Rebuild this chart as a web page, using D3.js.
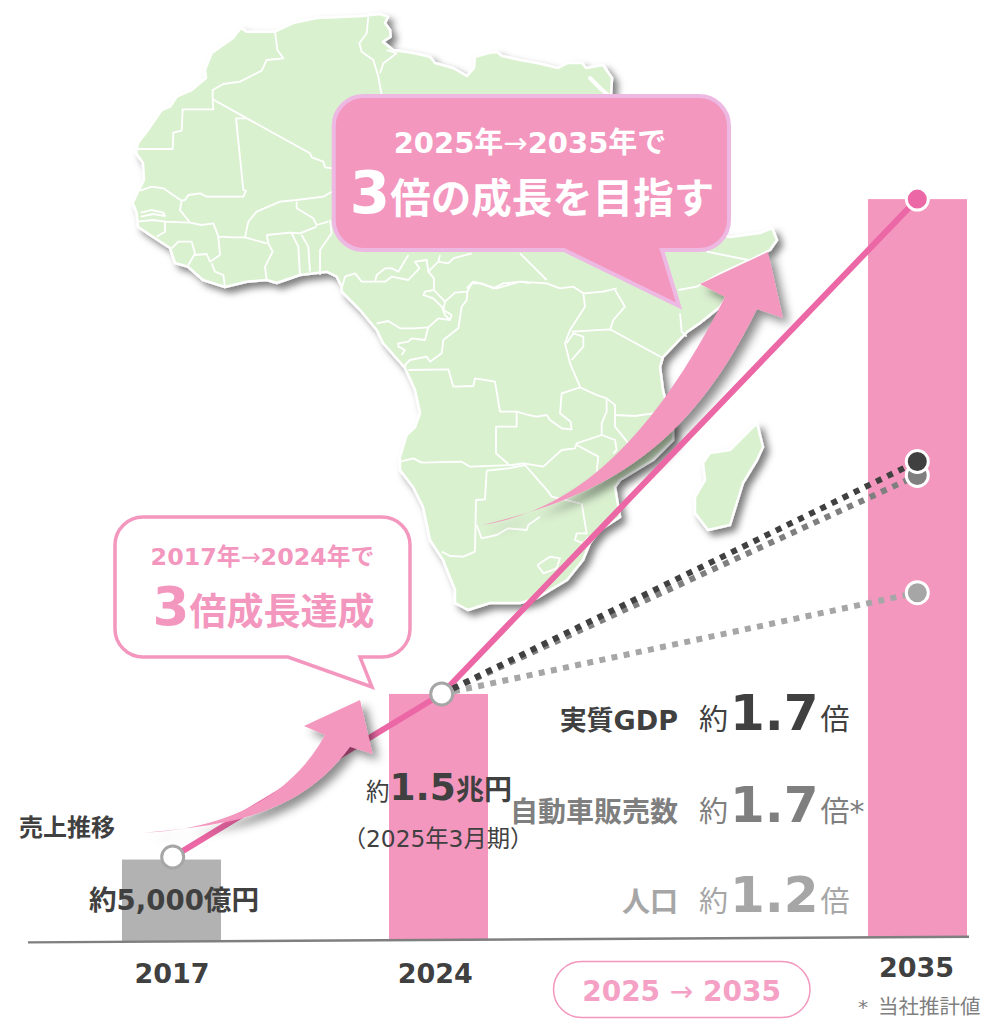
<!DOCTYPE html>
<html>
<head>
<meta charset="utf-8">
<script src="https://cdn.jsdelivr.net/npm/d3@7"></script>
<style>
    html, body { margin: 0; padding: 0; background: #fff; }
    text { font-family: "DejaVu Sans", "Noto Sans CJK JP", sans-serif; }
</style>
</head>
<body>
<div id="chart"></div>
<script>
// Sales bars
const years = [2017, 2024, 2035];
const sales = [5000, 15000, 45000]; // oku yen
const barColors = ["#b2b2b2", "#f397bf", "#f397bf"];

// Lines in the same oku yen units
const salesLine = [5150, 15000, 45000];
const gdpLine = [15000, 29000];
const carLine = [15000, 28150];
const popLine = [15000, 21000];

// Right hand growth labels
const growthNames = ["実質GDP", "自動車販売数", "人口"];
const growthValues = ["1.7", "1.7", "1.2"];
const growthMarks = ["", "*", ""];
const growthColors = ["#404040", "#7f7f7f", "#a6a6a6"];

// Africa, traced in page pixels
const africa = [[240.7,28],[246.7,31.7],[275,31.7],[293,23],[316.7,18],[346.7,16.7],[362,16],[380,14],[388,16.7],[385,23],[390,30],[390.7,36.7],[383,41.7],[393,50],[413,53],[430,56.7],[435,63],[453,68],[467,76],[474,68],[475,56.7],[490,52.7],[497,52],[502,56],[520,60],[537,63],[558,68],[568,63],[582,63],[586,68],[603,65],[612,78],[611,95],[625,130],[650,170],[680,200],[705,232],[730,237],[760,233],[772,228],[777,240],[770,250],[750,260],[737,280],[720,307],[700,323],[687,332],[663,357],[660,367],[663,390],[673,430],[673,440],[653,460],[620,480],[615,487],[620,517],[600,530],[590,543],[583,560],[567,580],[537,598],[520,603],[490,603],[468,610],[455,603],[455,590],[443,560],[430,540],[423,507],[413,487],[400,470],[400,457],[406.7,435],[415,427],[420,413],[415,390],[405,368],[383,343],[376.7,330],[360,310],[341.7,291.7],[341.7,286.7],[336.7,276.7],[326.7,271.7],[300,275],[276.7,283],[266.7,280],[246.7,281.7],[225,287],[203,280],[188,266.7],[175,263],[170,248],[150,235],[138,226.7],[136.7,213],[132.7,203],[138,191.7],[144,180],[143,163],[136,153],[138,143],[146.7,131.7],[161.7,110],[170,106.7],[176.7,96.7],[191.7,90],[206,78],[205,70],[211.7,53],[233,38]];
const madagascar = [[757,423],[763,447],[757,460],[743,483],[730,525],[708,530],[695,513],[695,497],[705,480],[703,463],[710,453],[730,450],[747,433]];

// Borders: each set is [left, top, polylines] measured on a 3x crop
const borderSets = [
    [120, 0, [
        [[465,95],[472,150],[490,175],[440,180],[425,212],[360,245],[310,252],[278,270],[278,300],[280,328],[188,328],[185,392],[160,398],[158,447],[50,447]],
        [[278,298],[570,460],[575,472],[610,485],[615,502],[640,505]],
        [[380,355],[348,355],[370,570],[378,572],[370,590],[260,590],[240,580],[205,585],[195,600],[185,602]],
        [[60,572],[95,560],[130,565],[155,582],[185,602],[180,630],[210,668]],
        [[62,638],[95,630],[130,638],[135,648],[100,642],[62,650]],
        [[50,665],[100,660],[135,665],[210,668],[245,675],[280,670],[295,710],[340,712],[375,712],[385,665],[410,635],[480,605],[530,600],[610,590],[635,575]],
        [[375,712],[440,730]],
        [[530,605],[530,625],[580,655],[590,675],[625,665]],
        [[440,705],[510,698],[540,700],[590,680]],
        [[440,705],[445,730],[458,755],[435,800],[440,840]],
        [[515,700],[535,740],[540,825]],
        [[545,705],[565,740],[570,815]],
        [[600,825],[600,750],[635,700],[630,660]],
        [[155,745],[175,725],[215,725],[225,760],[205,795]],
        [[225,765],[260,762],[270,785],[300,765],[295,710]],
        [[275,790],[285,815],[310,825],[315,862]],
        [[110,710],[135,695],[135,665]],
        [[745,50],[740,100],[718,130],[725,155],[760,180],[775,230],[785,285]],
        [[800,150],[830,160],[790,190],[780,220]]
    ]],
    [330, 240, [
        [[35,145],[45,110],[75,100],[95,125],[135,125],[140,105],[165,85],[185,85],[205,95],[235,45]],
        [[135,125],[165,125],[185,110],[235,120],[268,85],[255,65],[290,60],[295,95],[325,65],[330,45]],
        [[325,65],[355,70],[370,55],[425,40]],
        [[295,95],[312,115],[312,150],[345,185],[375,158],[412,155],[425,130],[455,130],[490,145],[520,130],[575,125],[600,130]],
        [[312,150],[285,155],[280,165],[310,175],[335,200],[345,225],[360,240],[325,235],[295,262],[285,300],[245,295],[235,305],[205,310],[205,320],[225,330],[215,345]],
        [[140,250],[175,243],[210,265],[250,265],[295,262]],
        [[412,155],[410,180],[395,200],[385,265],[340,300],[335,340],[300,365],[290,350],[240,360],[225,375],[225,390]],
        [[345,185],[340,210],[365,225],[360,240]]
    ]],
    [320, 80, [
        [[440,625],[460,605],[530,625],[600,605],[680,610],[720,625],[760,620],[790,640],[850,635],[890,625]],
        [[600,520],[640,560],[680,600]],
        [[790,640],[795,680],[750,750],[735,790],[750,850],[780,920]],
        [[885,630],[915,680],[880,720],[870,750]],
        [[755,755],[870,748],[1030,835]],
        [[1080,700],[1085,755],[1100,770]],
        [[740,790],[760,760],[790,770],[790,800],[755,840]],
        [[1160,515],[1285,540],[1200,580],[1130,620],[1075,630]]
    ]],
    [380, 280, [
        [[85,270],[205,268],[220,320],[280,318],[285,295],[345,305],[360,395],[410,395],[445,405],[470,410],[500,405],[510,420],[545,445],[575,448],[572,425],[540,400],[545,340],[600,322]],
        [[600,322],[650,345],[680,355],[705,375],[705,405],[765,408],[840,397]],
        [[680,358],[680,395],[665,430],[665,465],[705,480],[710,510],[700,520]],
        [[705,405],[705,440],[745,490],[735,505]],
        [[665,465],[590,490],[585,505],[545,510],[490,560],[430,550],[395,555]],
        [[410,395],[410,440],[348,440],[348,520],[385,552]],
        [[60,545],[100,535],[125,548],[245,545],[270,560],[395,555]],
        [[320,572],[385,565],[435,555],[470,595],[505,635],[515,650],[600,670]],
        [[320,572],[315,658],[288,660],[285,815],[250,830],[210,828],[185,815]],
        [[290,735],[305,775],[350,765],[385,745],[440,750],[445,735],[480,710]],
        [[590,495],[655,530],[650,575]],
        [[605,670],[620,760],[590,760],[585,780],[610,790],[625,770]],
        [[472,855],[510,830],[540,835],[530,865],[490,880],[472,855]]
    ]]
];
const redSea = [[590,78],[600,88],[608,95]];

// Set up the chart dimensions
const width = 983;
const height = 1020;

const svg = d3
    .select("#chart")
    .append("svg")
    .attr("width", width)
    .attr("height", height)
    .style("display", "block");

// Drop shadow shared by the map and the arrows
const defs = svg.append("defs");
const shadow = (id, dx, dy, blur, opacity) => {
    defs.append("filter")
        .attr("id", id)
        .attr("x", "-10%").attr("y", "-10%")
        .attr("width", "125%").attr("height", "125%")
        .append("feDropShadow")
        .attr("dx", dx).attr("dy", dy)
        .attr("stdDeviation", blur)
        .attr("flood-color", "#000")
        .attr("flood-opacity", opacity);
};
shadow("mapShadow", 5, 5, 3.5, 0.5);
shadow("arrowShadow", 6, 6, 5, 0.45);

// Scales. Years are not evenly spaced in the picture, so x is piecewise
const xBar = d3.scaleLinear().domain(years).range([171.5, 438.5, 917.5]);
const xDot = d3.scaleLinear().domain(years).range([172.7, 441.7, 917.3]);
const barHeight = d3.scaleLinear().domain([0, 45000]).range([0, 738]);
// The axis line leans slightly upward to the right
const baseY = d3.scaleLinear().domain([28, 969]).range([942.4, 936.8]);
const yAt = (x, v) => baseY(x) - barHeight(v);

const line = d3.line();

// Map
const mapLayer = svg.append("g");
const landGroup = mapLayer.append("g").attr("filter", "url(#mapShadow)");
[africa, madagascar].forEach((shape) => {
    landGroup.append("path")
        .attr("d", line(shape) + "Z")
        .attr("fill", "#daf1d0")
        .attr("stroke", "#fff")
        .attr("stroke-width", 2.5)
        .attr("stroke-linejoin", "round");
});
borderSets.forEach(([left, top, polylines]) => {
    polylines.forEach((pts) => {
        mapLayer.append("path")
            .attr("d", line(pts.map((p) => [left + p[0] / 3, top + p[1] / 3])))
            .attr("fill", "none")
            .attr("stroke", "#fff")
            .attr("stroke-width", 1.8)
            .attr("stroke-linejoin", "round");
    });
});
mapLayer.append("path")
    .attr("d", line(redSea))
    .attr("fill", "none")
    .attr("stroke", "#fff")
    .attr("stroke-width", 4)
    .attr("stroke-linecap", "round");

// Big arrow over the map
svg.append("path")
    .attr("d", "M481.7,525C565,512 645,455 725,297L700,284L768,252L783,318L757,309C690,445 610,495 481.7,525Z")
    .attr("fill", "#f397bf")
    .attr("filter", "url(#arrowShadow)");

// Bars
svg.selectAll("rect.bar")
    .data(years)
    .enter()
    .append("rect")
    .attr("class", "bar")
    .attr("x", (d) => xBar(d) - 49.5)
    .attr("width", 99)
    .attr("y", (d, i) => yAt(xBar(d), sales[i]))
    .attr("height", (d, i) => barHeight(sales[i]))
    .attr("fill", (d, i) => barColors[i]);

// Axis line
svg.append("line")
    .attr("x1", 28).attr("y1", baseY(28))
    .attr("x2", 969).attr("y2", baseY(969))
    .attr("stroke", "#7f7f7f")
    .attr("stroke-width", 2.4);

// Year labels
const xAxis = d3.axisBottom(xBar).tickValues(years).tickFormat(d3.format("d")).tickSize(0);
const axisGroup = svg.append("g").call(xAxis);
axisGroup.select(".domain").remove();
axisGroup.selectAll("text")
    .attr("y", (d) => (d === 2035 ? 977 : 983))
    .attr("dy", 0)
    .attr("dx", (d) => (d === 2024 ? -3.8 : d === 2035 ? -1.5 : 0))
    .attr("font-size", 27)
    .attr("font-weight", 700)
    .attr("font-family", null)
    .attr("fill", "#404040");

// Sales line, then the dotted lines out of 2024
svg.append("path")
    .attr("d", line(years.map((d, i) => [xDot(d), yAt(xBar(d), salesLine[i])])))
    .attr("fill", "none")
    .attr("stroke", "#ec67a5")
    .attr("stroke-width", 6);

const dotted = [
    { values: popLine, color: growthColors[2] },
    { values: carLine, color: growthColors[1] },
    { values: gdpLine, color: growthColors[0] },
];
dotted.forEach((s) => {
    svg.append("path")
        .attr("d", line([2024, 2035].map((d, i) => [xDot(d), yAt(xBar(d), s.values[i])])))
        .attr("fill", "none")
        .attr("stroke", s.color)
        .attr("stroke-width", 6)
        .attr("stroke-dasharray", "6 6.4");
});

// Small arrow sits over the sales line
svg.append("path")
    .attr("d", "M143,832.7C220,830 290,800 325,735L304,726L360,700L372.7,754L350,746.7C300,815 230,825 143,832.7Z")
    .attr("fill", "#f397bf")
    .attr("filter", "url(#arrowShadow)");

// Dots
const dots = [
    { x: 2017, v: salesLine[0], fill: "#fff", stroke: "#a6a6a6" },
    { x: 2024, v: salesLine[1], fill: "#fff", stroke: "#a6a6a6" },
    { x: 2035, v: popLine[1], fill: growthColors[2], stroke: "#fff" },
    { x: 2035, v: carLine[1], fill: growthColors[1], stroke: "#fff" },
    { x: 2035, v: gdpLine[1], fill: growthColors[0], stroke: "#fff" },
    { x: 2035, v: salesLine[2], fill: "#ec67a5", stroke: "#fff" },
];
svg.selectAll("circle")
    .data(dots)
    .enter()
    .append("circle")
    .attr("cx", (d) => xDot(d.x))
    .attr("cy", (d) => yAt(xBar(d.x), d.v))
    .attr("r", 11)
    .attr("fill", (d) => d.fill)
    .attr("stroke", (d) => d.stroke)
    .attr("stroke-width", 3);

// Callouts
const callout = (x0, y0, x1, y1, r, tail, fill, stroke, sw) => {
    const d = `M${x0 + r},${y0}H${x1 - r}A${r},${r} 0 0 1 ${x1},${y0 + r}V${y1 - r}A${r},${r} 0 0 1 ${x1 - r},${y1}`
        + `H${tail[1]}L${tail[2][0]},${tail[2][1]}L${tail[0]},${y1}`
        + `H${x0 + r}A${r},${r} 0 0 1 ${x0},${y1 - r}V${y0 + r}A${r},${r} 0 0 1 ${x0 + r},${y0}Z`;
    svg.append("path")
        .attr("d", d)
        .attr("fill", fill)
        .attr("stroke", stroke)
        .attr("stroke-width", sw)
        .attr("stroke-linejoin", "miter");
};
callout(333.7, 96, 729, 250, 30, [564, 662, [679, 306]], "#f397bf", "#edb9e3", 4);
callout(115, 517, 410, 657, 28, [288, 360, [372, 687]], "#fff", "#f397bf", 3.5);

// Text with mixed sizes on one baseline
const label = (x, y, anchor, fill, parts) => {
    const t = svg.append("text")
        .attr("x", x)
        .attr("y", y)
        .attr("text-anchor", anchor)
        .attr("fill", fill);
    parts.forEach(([str, size, weight, dx]) => {
        t.append("tspan")
            .attr("font-size", size)
            .attr("font-weight", weight)
            .attr("dx", dx || 0)
            .text(str);
    });
};

label(530, 153, "middle", "#fff", [["2025年", 29, 700], ["→", 29, 400], ["2035年で", 29, 700]]);
label(532, 213, "middle", "#fff", [["3", 58, 700], ["倍の成長を目指す", 40.5, 700]]);
label(262.5, 565, "middle", "#f397bf", [["2017年", 23.8, 700], ["→", 23.8, 400], ["2024年で", 23.8, 700]]);
label(263.5, 625, "middle", "#f397bf", [["3", 53, 700], ["倍成長達成", 37, 700]]);

label(19, 836, "start", "#404040", [["売上推移", 24, 700]]);
label(174, 910, "middle", "#404040", [["約5,000億円", 27.6, 700]]);
label(366, 800, "start", "#404040", [["約", 23.5, 400], ["1.5", 37.5, 700], ["兆円", 28, 700]]);
label(438, 847, "middle", "#404040", [["（2025年3月期）", 23.3, 400]]);

const growthY = [730, 821.5, 911.5];
growthNames.forEach((name, i) => {
    const color = growthColors[i];
    label(678, growthY[i], "end", color, [[name, i === 0 ? 27 : 28, 700]]);
    label(699, growthY[i], "start", color, [["約", 29, 400], [growthValues[i], 50, 700, 2], ["倍", 29, 400, 2], [growthMarks[i], 30, 400]]);
});

// Period pill
svg.append("rect")
    .attr("x", 553.5).attr("y", 961.5)
    .attr("width", 256.5).attr("height", 56)
    .attr("rx", 28)
    .attr("fill", "#fff")
    .attr("stroke", "#f397bf")
    .attr("stroke-width", 1.5);
label(681.6, 1000.5, "middle", "#f5a0c5", [["2025 ", 28, 700], ["→", 28, 400], [" 2035", 28, 700]]);

// Footnote
label(858, 1014, "start", "#7f7f7f", [["*", 20, 400]]);
label(878, 1014, "start", "#7f7f7f", [["当社推計値", 20.5, 400]]);
</script>
</body>
</html>
